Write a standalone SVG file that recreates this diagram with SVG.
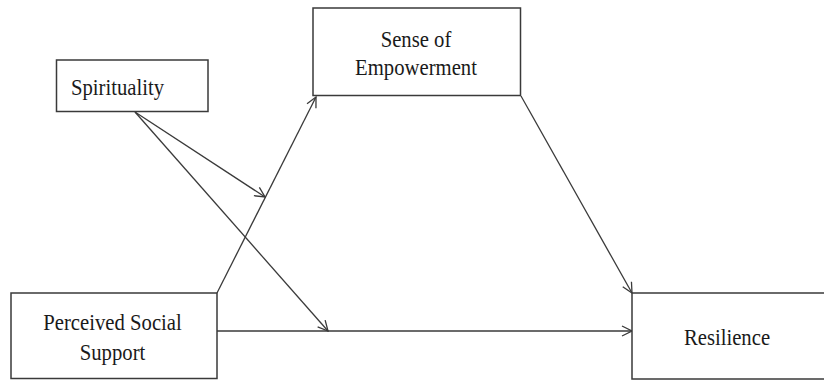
<svg xmlns="http://www.w3.org/2000/svg" width="824" height="380" viewBox="0 0 824 380">
<style>
.box{fill:#fff;stroke:#3a3a3a;stroke-width:1.5}
.lbl{font-family:"Liberation Serif","Times New Roman",serif;font-size:23px;fill:#1a1a1a}
.c{stroke:#3a3a3a;stroke-width:1.3;fill:none;marker-end:url(#ah)}
</style>
<defs>
<marker id="ah" viewBox="0 0 12 12" refX="11" refY="6" markerWidth="12" markerHeight="12" markerUnits="userSpaceOnUse" orient="auto">
<path d="M1,1 L11,6 L1,11" fill="none" stroke="#3a3a3a" stroke-width="1.3"/>
</marker>
</defs>
<rect width="824" height="380" fill="#fff"/>
<g id="connectors">
<line class="c" x1="217" y1="293" x2="316" y2="97"/>
<line class="c" x1="521" y1="96" x2="632" y2="293"/>
<line class="c" x1="217" y1="331" x2="632" y2="331"/>
<line class="c" x1="135" y1="112" x2="265" y2="197"/>
<line class="c" x1="135" y1="112" x2="328" y2="331"/>
</g>
<g id="spirituality">
<rect class="box" x="56.5" y="60" width="151.5" height="51.5"/>
<text class="lbl" transform="matrix(0.9 0 0 1 71 95)">Spirituality</text>
</g>
<g id="empowerment">
<rect class="box" x="313" y="8" width="207.5" height="87.5"/>
<text class="lbl" transform="matrix(0.9 0 0 1 416 47)" text-anchor="middle">Sense of</text>
<text class="lbl" transform="matrix(0.9 0 0 1 416 75)" text-anchor="middle">Empowerment</text>
</g>
<g id="social-support">
<rect class="box" x="11" y="293" width="206" height="85.5"/>
<text class="lbl" transform="matrix(0.9 0 0 1 112.5 330)" text-anchor="middle">Perceived Social</text>
<text class="lbl" transform="matrix(0.9 0 0 1 112.5 360)" text-anchor="middle">Support</text>
</g>
<g id="resilience">
<rect class="box" x="632" y="293" width="220" height="86"/>
<text class="lbl" transform="matrix(0.9 0 0 1 727 345)" text-anchor="middle">Resilience</text>
</g>
</svg>
